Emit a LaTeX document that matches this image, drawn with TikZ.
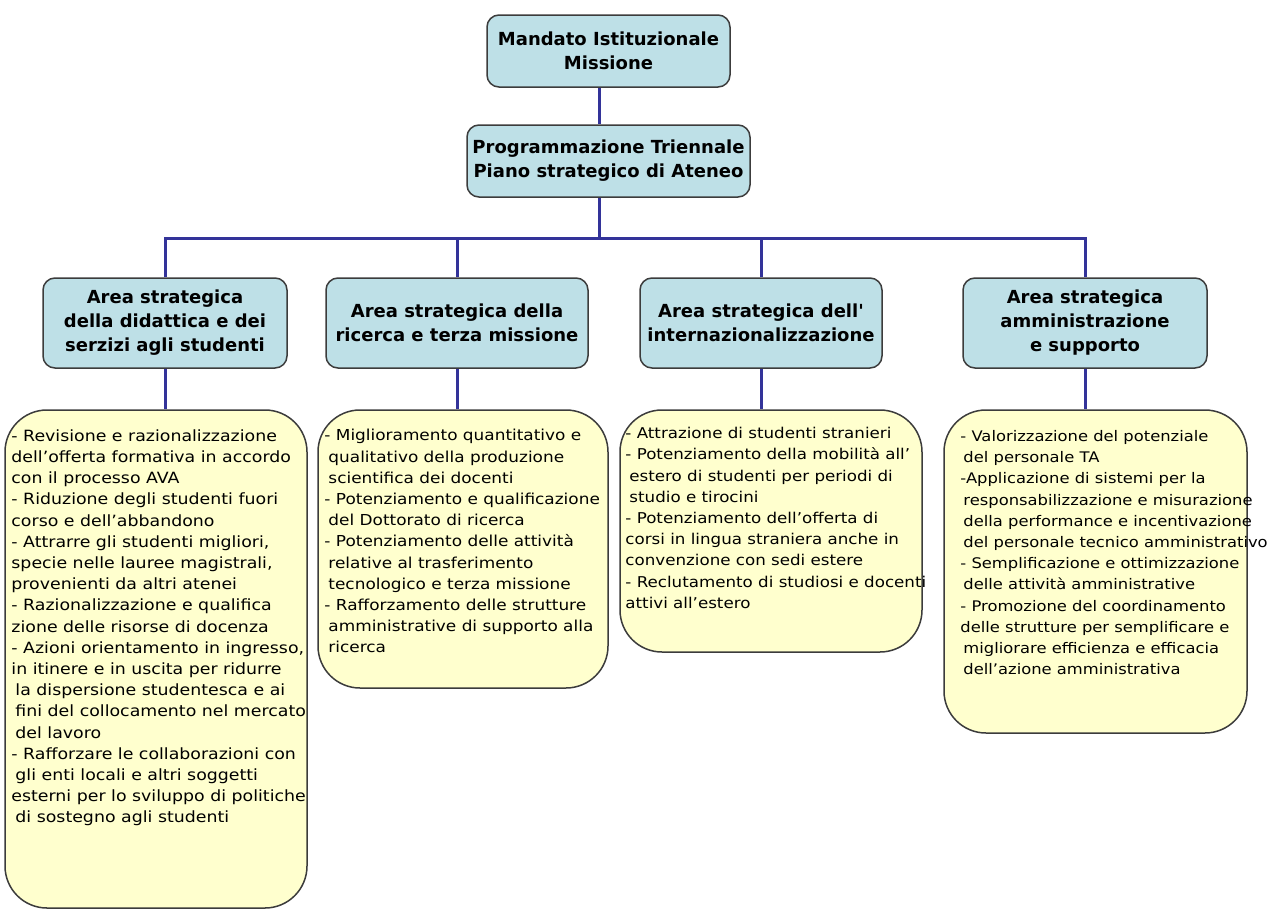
\documentclass[tikz,border=0pt]{standalone}
\usepackage{fontspec}
\setmainfont{DejaVu Sans}[FakeStretch=1.12]
\newfontfamily\headfont{DejaVu Sans}
\usetikzlibrary{positioning}

\definecolor{headblue}{RGB}{190,224,231}
\definecolor{noteyellow}{RGB}{255,255,206}
\definecolor{edgegray}{RGB}{60,60,60}
\definecolor{linkblue}{RGB}{51,51,153}

\tikzset{
  headbox/.style={draw=edgegray, line width=1.5pt, fill=headblue, rounded corners=12pt,
    align=center, inner sep=0pt, font=\headfont\bfseries\fontsize{18}{24}\selectfont},
  notebox/.style={draw=edgegray, line width=1.5pt, fill=noteyellow, rounded corners=42pt},
  notetext/.style={align=left, inner sep=0pt, font=\fontsize{15.5}{21.2}\selectfont},
  link/.style={draw=linkblue, line width=3pt}
}

\begin{document}
\begin{tikzpicture}[x=1pt,y=1pt,yscale=-1]
\useasboundingbox (0,0) rectangle (1267,911);
\fill[white] (0,0) rectangle (1267,911);

%Shape: Rounded Rect
\node[headbox, minimum width=243, minimum height=72] (mandato) at (608.5,51) {Mandato Istituzionale\\Missione};
%Shape: Rounded Rect
\node[headbox, minimum width=283, minimum height=72] (piano) at (608.5,161) {Programmazione Triennale\\Piano strategico di Ateneo};

%Shape: Rounded Rect
\node[headbox, minimum width=244, minimum height=90] (areaDid) at (165,323) {Area strategica\\della didattica e dei\\serzizi agli studenti};
\node[headbox, minimum width=262, minimum height=90] (areaRic) at (457,323) {Area strategica della\\ricerca e terza missione};
\node[headbox, minimum width=242, minimum height=90] (areaInt) at (761,323) {Area strategica dell'\\internazionalizzazione};
\node[headbox, minimum width=244, minimum height=90] (areaAmm) at (1085,323) {Area strategica\\amministrazione\\e supporto};

%Shape: Rounded Rect
\node[notebox, minimum width=302, minimum height=498] (noteDid) at (156,659) {};
\node[notebox, minimum width=290, minimum height=278] (noteRic) at (463,549) {};
\node[notebox, minimum width=302, minimum height=242] (noteInt) at (771,531) {};
\node[notebox, minimum width=303, minimum height=323] (noteAmm) at (1095.5,571.5) {};

% Text Node
\node[notetext, below right=20pt and 7pt of noteDid.north west] (textDid) {%
- Revisione e razionalizzazione\\
dell'offerta formativa in accordo\\
con il processo AVA\\
- Riduzione degli studenti fuori\\
corso e dell'abbandono\\
- Attrarre gli studenti migliori,\\
specie nelle lauree magistrali,\\
provenienti da altri atenei\\
- Razionalizzazione e qualifica\\
zione delle risorse di docenza\\
- Azioni orientamento in ingresso,\\
in itinere e in uscita per ridurre\\
\hspace*{4pt}la dispersione studentesca e ai\\
\hspace*{4pt}fini del collocamento nel mercato\\
\hspace*{4pt}del lavoro\\
- Rafforzare le collaborazioni con\\
\hspace*{4pt}gli enti locali e altri soggetti\\
esterni per lo sviluppo di politiche\\
\hspace*{4pt}di sostegno agli studenti};
% Text Node
\node[notetext, font=\fontsize{15.1}{21.2}\selectfont, below right=20pt and 7pt of noteRic.north west] (textRic) {%
- Miglioramento quantitativo e\\
\hspace*{4pt}qualitativo della produzione\\
\hspace*{4pt}scientifica dei docenti\\
- Potenziamento e qualificazione\\
\hspace*{4pt}del Dottorato di ricerca\\
- Potenziamento delle attività\\
\hspace*{4pt}relative al trasferimento\\
\hspace*{4pt}tecnologico e terza missione\\
- Rafforzamento delle strutture\\
\hspace*{4pt}amministrative di supporto alla\\
\hspace*{4pt}ricerca};
% Text Node
\node[notetext, font=\fontsize{14.9}{21.2}\selectfont, below right=18pt and 6pt of noteInt.north west] (textInt) {%
- Attrazione di studenti stranieri\\
- Potenziamento della mobilità all'\\
\hspace*{4pt}estero di studenti per periodi di\\
\hspace*{4pt}studio e tirocini\\
- Potenziamento dell'offerta di\\
corsi in lingua straniera anche in\\
convenzione con sedi estere\\
- Reclutamento di studiosi e docenti\\
attivi all'estero};
% Text Node
\node[notetext, font=\fontsize{14.6}{21.2}\selectfont, below right=21pt and 17pt of noteAmm.north west] (textAmm) {%
- Valorizzazione del potenziale\\
\hspace*{3pt}del personale TA\\
-Applicazione di sistemi per la\\
\hspace*{3pt}responsabilizzazione e misurazione\\
\hspace*{3pt}della performance e incentivazione\\
\hspace*{3pt}del personale tecnico amministrativo\\
- Semplificazione e ottimizzazione\\
\hspace*{3pt}delle attività amministrative\\
- Promozione del coordinamento\\
delle strutture per semplificare e\\
\hspace*{3pt}migliorare efficienza e efficacia\\
\hspace*{3pt}dell'azione amministrativa};

%Straight Lines
\coordinate (trunk) at (599,238);
\draw[link] (mandato.south -| trunk) -- (piano.north -| trunk);
\draw[link] (piano.south -| trunk) -- (trunk);
\draw[link] (areaDid.north) |- (trunk) -| (areaAmm.north);
\draw[link] (areaRic.north) -- (areaRic.north |- trunk);
\draw[link] (areaInt.north) -- (areaInt.north |- trunk);

%Straight Lines
\draw[link] (areaDid.south) -- (areaDid.south |- noteDid.north);
\draw[link] (areaRic.south) -- (areaRic.south |- noteRic.north);
\draw[link] (areaInt.south) -- (areaInt.south |- noteInt.north);
\draw[link] (areaAmm.south) -- (areaAmm.south |- noteAmm.north);

\end{tikzpicture}
\end{document}
